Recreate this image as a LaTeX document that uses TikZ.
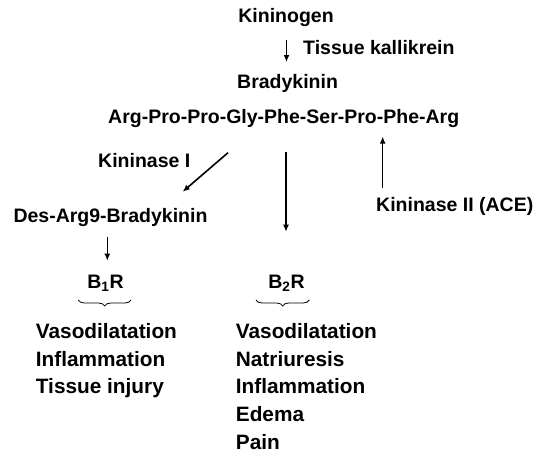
\documentclass[tikz,border=0pt]{standalone}
\usepackage{fontspec}
\setmainfont{Liberation Sans}
\usetikzlibrary{arrows.meta}
\usetikzlibrary{decorations.pathreplacing}

\begin{document}
\begin{tikzpicture}[x=1pt,y=-1pt,
    every node/.style={inner sep=0pt,font=\fontsize{19.5}{23}\selectfont\bfseries},
    effect/.style={anchor=base west,font=\fontsize{20.8}{24}\selectfont\bfseries},
    >={Latex[length=7pt,width=6pt]}]
    \useasboundingbox (0,0) rectangle (544,453);

    % Kininogen to bradykinin
    \node[anchor=base] (kgen) at (286,22.7) {Kininogen};
    \coordinate (kalA) at (286.5,40);
    \coordinate (kalB) at (286.5,62);
    \draw[->,line width=1.6pt] (kalA) -- (kalB);
    \node[anchor=base west] (kal) at (303,54) {Tissue kallikrein};
    \node[anchor=base west] (bk) at (237,88.3) {Bradykinin};
    \node[anchor=base west] (seq) at (108,123) {Arg-Pro-Pro-Gly-Phe-Ser-Pro-Phe-Arg};

    % Kininase I
    \node[anchor=base west] (kin1) at (98,167.7) {Kininase I};
    \coordinate (k1A) at (228,152.7);
    \coordinate (k1B) at (182.7,191.7);
    \draw[->,line width=1.6pt] (k1A) -- (k1B);
    \node[anchor=base west] (desbk) at (13.3,222.7) {Des-Arg9-Bradykinin};
    \coordinate (d1A) at (107.3,236.7);
    \coordinate (d1B) at (107.3,260.7);
    \draw[->,line width=1.6pt] (d1A) -- (d1B);

    % Kininase II
    \coordinate (k2A) at (382.7,188.3);
    \coordinate (k2B) at (382.7,136.7);
    \draw[->,line width=1.1pt] (k2A) -- (k2B);
    \node[anchor=base west] (kin2) at (376,211.7) {Kininase II (ACE)};

    % B2 path
    \coordinate (b2A) at (286,151.7);
    \coordinate (b2B) at (286,231.7);
    \draw[->,line width=1.8pt] (b2A) -- (b2B);

    % Receptors
    \node[anchor=base] (b1r) at (105.5,288.3) {B\textsubscript{1}R};
    \node[anchor=base] (b2r) at (286.5,288.3) {B\textsubscript{2}R};
    \coordinate (br1A) at (78.3,300);
    \coordinate (br1B) at (131,300);
    \coordinate (br2A) at (256,300);
    \coordinate (br2B) at (309.3,300);
    \draw[line width=0.8pt,decorate,decoration={brace,mirror,amplitude=6pt}] (br1A) -- (br1B);
    \draw[line width=0.8pt,decorate,decoration={brace,mirror,amplitude=6pt}] (br2A) -- (br2B);

    % Effects
    \foreach \txt [count=\i] in {Vasodilatation,Inflammation,Tissue injury}
        \node[effect] (efa\i) at (35.7,{310.5+27.8*\i}) {\txt};
    \foreach \txt [count=\i] in {Vasodilatation,Natriuresis,Inflammation,Edema,Pain}
        \node[effect] (efb\i) at (235.7,{310.5+27.8*\i}) {\txt};
\end{tikzpicture}
\end{document}
